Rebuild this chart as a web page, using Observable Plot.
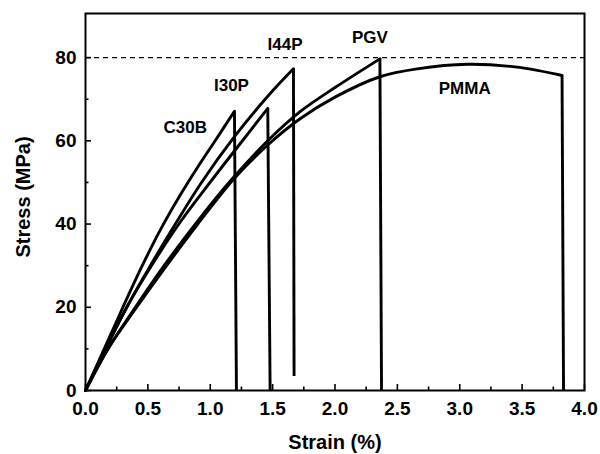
<!DOCTYPE html>
<html>
<head>
<meta charset="utf-8">
<script src="https://cdn.jsdelivr.net/npm/d3@7"></script>
<script src="https://cdn.jsdelivr.net/npm/@observablehq/plot@0.6"></script>
<style>
  html, body { margin: 0; padding: 0; background: #fff; }
  svg { display: block; }
</style>
</head>
<body>
<div id="chart"></div>
<script>
// ---- data ----
const seriesNames = ["C30B", "I30P", "I44P", "PGV", "PMMA"];

const c30bStrain = [0, 0.15, 0.30, 0.45, 0.60, 0.75, 0.90, 1.05, 1.194];
const c30bStress = [0, 10, 20, 29.7, 38.6, 46.5, 53.7, 60.5, 67.1];

const i30pStrain = [0, 0.17, 0.35, 0.55, 0.76, 0.98, 1.20, 1.461];
const i30pStress = [0, 10.5, 21, 31, 40.5, 49.3, 57.8, 67.8];

const i44pStrain = [0, 0.16, 0.33, 0.52, 0.72, 0.93, 1.194, 1.47, 1.667];
const i44pStress = [0, 10, 20, 30, 40, 50, 61, 71, 77.3];

const pgvStrain = [0, 0.18, 0.40, 0.63, 0.88, 1.18, 1.461, 1.72, 2.0, 2.36];
const pgvStress = [0, 10, 20, 30, 40, 51, 60, 67, 72.8, 79.7];

const pmmaStrain = [0, 0.18, 0.41, 0.65, 0.90, 1.194, 1.461, 1.72, 2.0, 2.36, 2.66, 3.06, 3.46, 3.82];
const pmmaStress = [0, 10, 20, 30, 40, 51, 59, 65.3, 70.5, 75.4, 77.3, 78.4, 77.7, 75.7];

// fracture drops: strain at the bottom of the drop, stress left after it
const dropStrainEnd = [1.21, 1.48, 1.672, 2.373, 3.832];
const dropStressEnd = [0, 0, 3.5, 0, 0];

// curve labels (strain, stress)
const labelStrain = [0.80, 1.17, 1.60, 2.28, 3.04];
const labelStress = [63.2, 73.3, 83.1, 84.8, 72.6];

// reference (dashed) line
const refStress = [80];

// ticks
const xMajor = [0, 0.5, 1.0, 1.5, 2.0, 2.5, 3.0, 3.5, 4.0];
const xMinor = [0.25, 0.75, 1.25, 1.75, 2.25, 2.75, 3.25, 3.75];
const yMajor = [0, 20, 40, 60, 80];
const yMinor = [10, 30, 50, 70];

// ---- build tables ----
const strains = [c30bStrain, i30pStrain, i44pStrain, pgvStrain, pmmaStrain];
const stresses = [c30bStress, i30pStress, i44pStress, pgvStress, pmmaStress];

const curvePoints = seriesNames.flatMap((name, i) =>
  strains[i].map((s, j) => ({series: name, strain: s, stress: stresses[i][j]}))
);
const drops = seriesNames.map((name, i) => ({
  series: name,
  x1: strains[i][strains[i].length - 1],
  y1: stresses[i][stresses[i].length - 1],
  x2: dropStrainEnd[i],
  y2: dropStressEnd[i]
}));
const labels = seriesNames.map((name, i) => ({name, x: labelStrain[i], y: labelStress[i]}));

const W = 600, H = 454;
const mT = 13, mR = 16, mB = 64, mL = 85;
const plotW = W - mL - mR, plotH = H - mT - mB;

const chart = Plot.plot({
  width: W,
  height: H,
  marginTop: mT,
  marginRight: mR,
  marginBottom: mB,
  marginLeft: mL,
  style: {fontFamily: "'Liberation Sans', Arial, sans-serif", fontSize: "19px", fontWeight: "bold", background: "#fff", color: "#000", overflow: "visible"},
  x: {domain: [0, 4]},
  y: {domain: [0, 90.6]},
  marks: [
    Plot.ruleY(refStress, {y: d => d, stroke: "#000", strokeWidth: 1.3, strokeDasharray: "5,4"}),
    Plot.line(curvePoints, {x: "strain", y: "stress", z: "series", curve: "catmull-rom", stroke: "#000", strokeWidth: 2.9, strokeLinejoin: "round"}),
    Plot.link(drops, {x1: "x1", y1: "y1", x2: "x2", y2: "y2", stroke: "#000", strokeWidth: 2.9, strokeLinecap: "butt"}),
    Plot.text(labels, {x: "x", y: "y", text: "name", fontSize: 17, fontWeight: "bold", fill: "#000"}),
    Plot.tickX(xMajor, {x: d => d, insetTop: plotH - 6, stroke: "#000", strokeWidth: 1.6}),
    Plot.tickX(xMinor, {x: d => d, insetTop: plotH - 3.5, stroke: "#000", strokeWidth: 1.6}),
    Plot.tickY(yMajor, {y: d => d, insetRight: plotW - 6, stroke: "#000", strokeWidth: 1.6}),
    Plot.tickY(yMinor, {y: d => d, insetRight: plotW - 3.5, stroke: "#000", strokeWidth: 1.6}),
    Plot.axisX({ticks: xMajor, tickSize: 0, tickPadding: 11, tickFormat: d3.format(".1f"), label: null}),
    Plot.axisY({ticks: yMajor, tickSize: 0, tickPadding: 9, label: null}),
    Plot.text(["Strain (%)"], {frameAnchor: "bottom", textAnchor: "middle", lineAnchor: "middle", dy: 52, fontSize: 20, fontWeight: "bold", fill: "#000"}),
    Plot.text(["Stress (MPa)"], {frameAnchor: "left", textAnchor: "middle", lineAnchor: "middle", dx: -62, dy: -5, rotate: -90, fontSize: 20, fontWeight: "bold", fill: "#000"}),
    Plot.frame({stroke: "#000", strokeWidth: 2})
  ]
});
document.getElementById("chart").appendChild(chart);
</script>
</body>
</html>
